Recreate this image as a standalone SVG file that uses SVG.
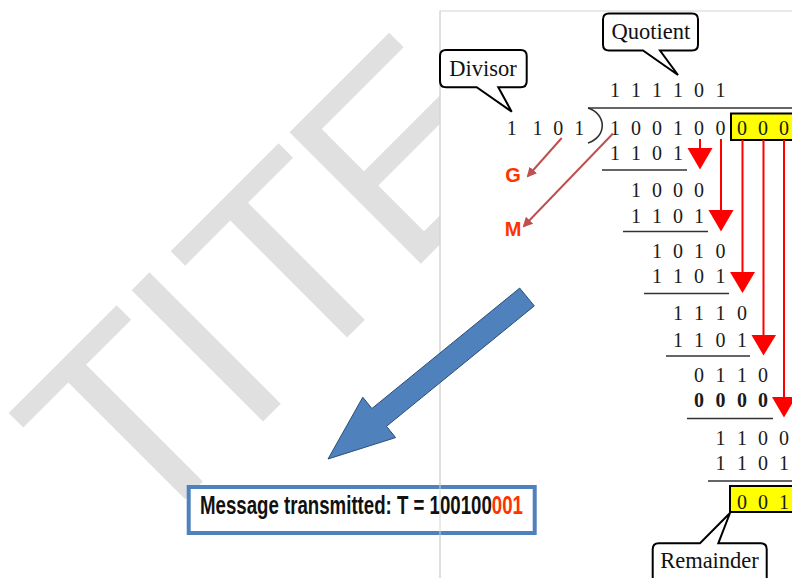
<svg xmlns="http://www.w3.org/2000/svg" width="792" height="578" viewBox="0 0 792 578">
<style>
.wm{font-family:"Liberation Sans",Arial,sans-serif;font-size:270px;fill:#e0e0e0}
.d{font-family:"Liberation Serif","Times New Roman",serif;font-size:20px;fill:#1a1a1a;text-anchor:middle}
.bd{font-weight:bold}
.rule{stroke:#333;stroke-width:1.6;fill:none}
.red{stroke:#ff0000;stroke-width:2;fill:none}
.head{fill:#ff0000}
.call{fill:#fff;stroke:#000;stroke-width:2}
.ct{font-family:"Liberation Serif","Times New Roman",serif;font-size:22.5px;text-anchor:middle;fill:#111}
.gm{font-family:"Liberation Sans",Arial,sans-serif;font-weight:bold;font-size:20px;fill:#ff3300;text-anchor:middle}
.ybox{fill:#ffff00;stroke:#000;stroke-width:2}
.brn{stroke:#c0504d;stroke-width:2;fill:none}
.msg{font-family:"Liberation Sans",Arial,sans-serif;font-weight:bold;font-size:26px}
</style>
<defs>
<marker id="ah" viewBox="0 0 10 10" refX="8" refY="5" markerWidth="5" markerHeight="5" orient="auto"><path d="M0,0 L10,5 L0,10 z" fill="#c0504d"/></marker>
</defs>

<text class="wm" transform="rotate(-45)" x="-292 -137 -63 89" y="484">TITE</text>

<rect x="440" y="11" width="360" height="580" fill="#fff" stroke="#d4d4d4" stroke-width="1"/>

<g id="message">
<rect x="188.7" y="487" width="346" height="46" fill="#fff" stroke="#4f81bd" stroke-width="4"/>
<text class="msg" x="200" y="514" textLength="323" lengthAdjust="spacingAndGlyphs" fill="#111">Message transmitted: T = 100100<tspan fill="#ff3300">001</tspan></text>
</g>
<line x1="440" y1="11" x2="440" y2="578" stroke="#d4d4d4" stroke-width="1"/>

<g id="bigarrow">
<polygon points="519.7,288.1 534.3,305.9 386.5,426.3 395.6,437.6 328,459 362.8,397.2 371.9,408.5" fill="#4f81bd" stroke="#2c4d75" stroke-width="1"/>
</g>

<g id="division">
<text class="d" x="615 636 657 678 699 720.5" y="97">111101</text>
<text class="d" x="615 636 657 678 699 720.5" y="134.5">100100</text>
<rect class="ybox" x="731" y="113.5" width="70" height="26.5"/>
<text class="d" x="742 763 784" y="134.5">000</text>
<text class="d" x="615 636 657 678" y="159.5">1101</text>
<text class="d" x="636 657 678 699" y="196.5">1000</text>
<text class="d" x="636 657 678 699" y="223">1101</text>
<text class="d" x="657 678 699 720.5" y="258">1010</text>
<text class="d" x="657 678 699 720.5" y="283">1101</text>
<text class="d" x="678 699 720.5 742" y="320">1110</text>
<text class="d" x="678 699 720.5 742" y="346.5">1101</text>
<text class="d" x="699 720.5 742 763" y="381.5">0110</text>
<text class="d bd" x="699 720.5 742 763" y="406.5">0000</text>
<text class="d" x="720.5 742 763 784" y="445">1100</text>
<text class="d" x="720.5 742 763 784" y="470">1101</text>
<rect class="ybox" x="730" y="486" width="70" height="26"/>
<text class="d" x="742 763 784" y="509">001</text>
<line class="rule" x1="588" y1="108" x2="792" y2="108"/>
<path class="rule" d="M588,108 C607,114 607,137 588,143"/>
<line class="rule" x1="602" y1="170" x2="687" y2="170"/>
<line class="rule" x1="623" y1="231.5" x2="708" y2="231.5"/>
<line class="rule" x1="644" y1="293.5" x2="729" y2="293.5"/>
<line class="rule" x1="666" y1="356" x2="750" y2="356"/>
<line class="rule" x1="687" y1="418.5" x2="773" y2="418.5"/>
<line class="rule" x1="708" y1="481" x2="792" y2="481"/>
</g>

<g id="divisor-digits">
<text class="d" x="511.7 537.5 558.3 579.3" y="134.5">1101</text>
</g>

<g id="connectors">
<line class="red" x1="700" y1="139" x2="700" y2="150"/>
<polygon class="head" points="687.5,148 712.5,148 700,169.5"/>
<line class="red" x1="721" y1="139" x2="721" y2="212"/>
<polygon class="head" points="708.5,210 733.5,210 721,231.5"/>
<line class="red" x1="742.5" y1="140" x2="742.5" y2="274"/>
<polygon class="head" points="730,272 755,272 742.5,293"/>
<line class="red" x1="763.5" y1="140" x2="763.5" y2="337"/>
<polygon class="head" points="751.5,335 776,335 763.5,355.5"/>
<line class="red" x1="784" y1="140" x2="784" y2="399"/>
<polygon class="head" points="772,397 796,397 784,417.5"/>
<line class="brn" x1="561.7" y1="138" x2="528" y2="176" marker-end="url(#ah)"/>
<line class="brn" x1="613" y1="133.5" x2="524" y2="226" marker-end="url(#ah)"/>
</g>

<g id="G"><text class="gm" x="513" y="182">G</text></g>
<g id="M"><text class="gm" x="513" y="235.5">M</text></g>

<g id="quotient-callout">
<path class="call" d="M609,13.5 H692 Q698,13.5 698,19.5 V44.5 Q698,50.5 692,50.5 H660 L678,75 L643,50.5 H609 Q603,50.5 603,44.5 V19.5 Q603,13.5 609,13.5 Z"/>
<text class="ct" x="650.8" y="39.3">Quotient</text>
</g>
<g id="divisor-callout">
<path class="call" d="M446,50 H520.7 Q526.7,50 526.7,56 V81.3 Q526.7,87.3 520.7,87.3 H498.3 L511.7,111.7 L476.7,87.3 H446 Q440,87.3 440,81.3 V56 Q440,50 446,50 Z"/>
<text class="ct" x="483" y="76">Divisor</text>
</g>
<g id="remainder-callout">
<path class="call" d="M658.7,543.3 H700 L730,513 L718.3,543.3 H760.7 Q766.7,543.3 766.7,549.3 V590 H652.7 V549.3 Q652.7,543.3 658.7,543.3 Z"/>
<text class="ct" x="709.5" y="568.3">Remainder</text>
</g>
</svg>
